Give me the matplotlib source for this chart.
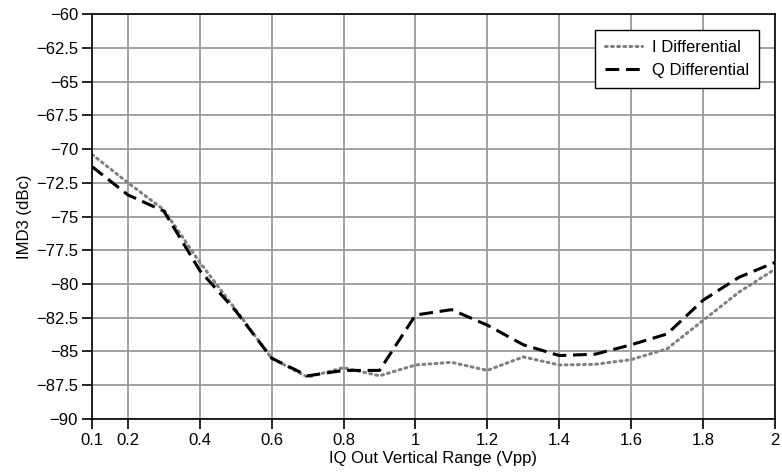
import numpy as np
import matplotlib
matplotlib.use("Agg")
import matplotlib.pyplot as plt
from matplotlib.ticker import FuncFormatter

plt.rcParams["font.family"] = ["Liberation Sans", "DejaVu Sans"]

# Datos
vpp = [0.1, 0.2, 0.3, 0.4, 0.5, 0.6, 0.7, 0.8, 0.9, 1.0,
       1.1, 1.2, 1.3, 1.4, 1.5, 1.6, 1.7, 1.8, 1.9, 2.0]
i_diff = [-70.4, -72.5, -74.5, -78.4, -81.9, -85.5, -86.9, -86.2, -86.8, -86.0,
          -85.8, -86.4, -85.4, -86.0, -85.95, -85.6, -84.8, -82.7, -80.6, -78.9]
q_diff = [-71.3, -73.4, -74.6, -79.0, -82.0, -85.5, -86.8, -86.4, -86.4, -82.3,
          -81.9, -83.05, -84.5, -85.3, -85.2, -84.5, -83.7, -81.2, -79.5, -78.4]

x_ticks = [0.1, 0.2, 0.4, 0.6, 0.8, 1.0, 1.2, 1.4, 1.6, 1.8, 2.0]
y_ticks = np.arange(-90, -59.9, 2.5)

fig = plt.figure(figsize=(7.82, 4.72), dpi=100)
ax = fig.add_axes([0.1176, 0.1123, 0.8734, 0.8580])

ax.plot(vpp, i_diff, color="#808080", lw=2.2, linestyle=(0, (0.6, 1.4)),
        dash_capstyle="round", label="I Differential")
ax.plot(vpp, q_diff, color="black", lw=2.2, linestyle=(0, (4.5, 2.2)),
        label="Q Differential")

ax.set_xlim(0.1, 2.0)
ax.set_ylim(-90, -60)
ax.set_xticks(x_ticks)
ax.set_yticks(y_ticks)
ax.xaxis.set_major_formatter(FuncFormatter(lambda v, p: "%g" % round(v, 2)))
ax.yaxis.set_major_formatter(FuncFormatter(lambda v, p: ("%g" % v).replace("-", "\u2212")))
ax.tick_params(direction="out", length=7, width=1.2, labelsize=12, colors="black", pad=3)

ax.grid(True, color="#9a9a9a", lw=1.3)
ax.set_axisbelow(True)
for s in ax.spines.values():
    s.set_color("black")
    s.set_linewidth(1.2)

ax.set_xlabel("IQ Out Vertical Range (Vpp)", fontsize=12, labelpad=2)
ax.set_ylabel("IMD3 (dBc)", fontsize=12, labelpad=3)

leg = ax.legend(loc="upper right", bbox_to_anchor=(0.9766, 0.9605), fontsize=12,
                frameon=True, fancybox=False, edgecolor="black", framealpha=1,
                handlelength=2.2, handletextpad=0.6, borderpad=0.6, labelspacing=0.45,
                borderaxespad=0)
leg.get_frame().set_linewidth(1.0)

fig.savefig("out.png", dpi=100)
